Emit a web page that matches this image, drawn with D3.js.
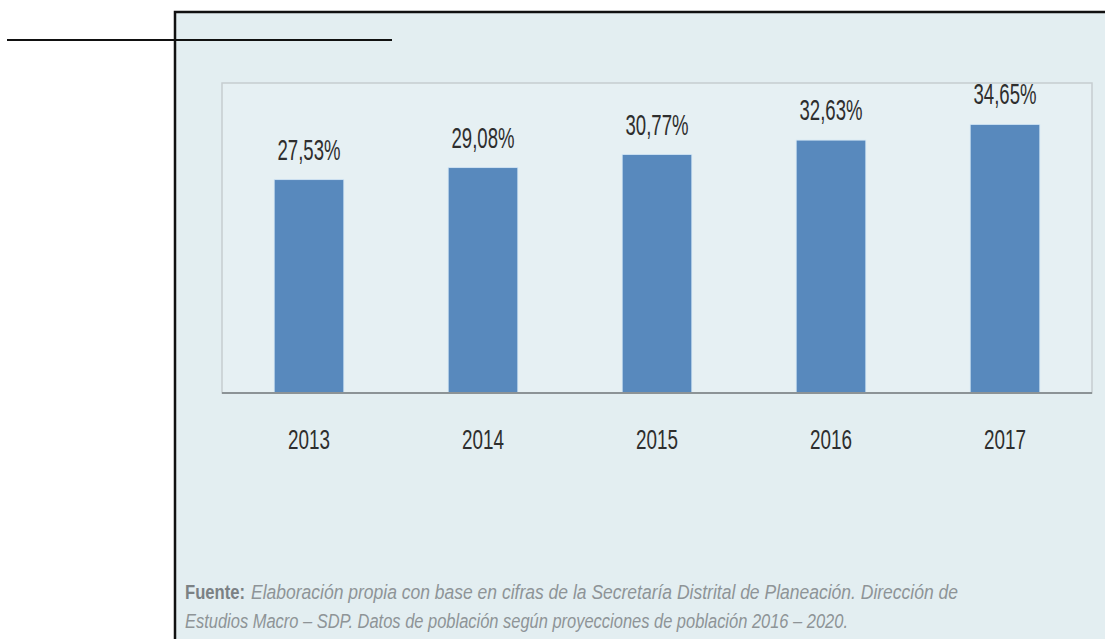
<!DOCTYPE html>
<html>
<head>
<meta charset="utf-8">
<script src="https://cdn.jsdelivr.net/npm/d3@7"></script>
<style>
  html, body { margin: 0; padding: 0; background: #ffffff; }
  svg { display: block; }
</style>
</head>
<body>
<svg id="chart" width="1105" height="639"></svg>
<script>
// ---- data ----
const years = ["2013", "2014", "2015", "2016", "2017"];
const values = [27.53, 29.08, 30.77, 32.63, 34.65];
const valueLabels = ["27,53%", "29,08%", "30,77%", "32,63%", "34,65%"];
const sourceBold = "Fuente:";
const sourceLine1 = "Elaboración propia con base en cifras de la Secretaría Distrital de Planeación. Dirección de";
const sourceLine2 = "Estudios Macro – SDP. Datos de población según proyecciones de población 2016 – 2020.";

const svg = d3.select("#chart");
const W = 1105, H = 639;

// outer panel
svg.append("rect").attr("x", 0).attr("y", 0).attr("width", W).attr("height", H).attr("fill", "#ffffff");
svg.append("rect")
  .attr("x", 175).attr("y", 12).attr("width", W - 175 + 10).attr("height", H)
  .attr("fill", "#e3eef1").attr("stroke", "#111").attr("stroke-width", 2.5);
svg.append("line").attr("x1", 7).attr("x2", 392).attr("y1", 40).attr("y2", 40)
  .attr("stroke", "#111").attr("stroke-width", 2.2);

// plot area
const plot = { left: 222, right: 1092, top: 83, bottom: 393 };
const x = d3.scaleBand().domain(years).range([plot.left, plot.right])
  .paddingInner(0.6).paddingOuter(0.3);
const y = d3.scaleLinear().domain([0, 40]).range([plot.bottom, plot.top]);

svg.append("rect")
  .attr("x", plot.left).attr("y", plot.top)
  .attr("width", plot.right - plot.left).attr("height", plot.bottom - plot.top)
  .attr("fill", "#e6f0f3").attr("stroke", "#c6cdd0").attr("stroke-width", 1.5);

// bars
svg.selectAll("rect.bar").data(values).join("rect")
  .attr("class", "bar")
  .attr("x", (d, i) => x(years[i]))
  .attr("y", d => y(d))
  .attr("width", x.bandwidth())
  .attr("height", d => y(0) - y(d))
  .attr("fill", "#5889bd")
  .attr("stroke", "#d3e6f5").attr("stroke-width", 0.8);

// x axis
const xAxis = svg.append("g").attr("transform", `translate(0,${plot.bottom})`)
  .call(d3.axisBottom(x).tickSize(0).tickPadding(0));
xAxis.select(".domain").attr("stroke", "#8c9396").attr("stroke-width", 2)
  .attr("d", `M${plot.left},0H${plot.right}`);
xAxis.selectAll("text")
  .attr("y", 56).attr("dy", null)
  .attr("font-family", "Liberation Sans, Arial, sans-serif")
  .attr("font-size", 27)
  .attr("fill", "#2e2e2e")
  .attr("textLength", 42).attr("lengthAdjust", "spacingAndGlyphs");

// value labels
svg.selectAll("text.val").data(values).join("text")
  .attr("class", "val")
  .attr("x", (d, i) => x(years[i]) + x.bandwidth() / 2)
  .attr("y", d => y(d) - 20)
  .attr("text-anchor", "middle")
  .attr("font-family", "Liberation Sans, Arial, sans-serif")
  .attr("font-size", 30)
  .attr("fill", "#2e2e2e")
  .attr("textLength", 63).attr("lengthAdjust", "spacingAndGlyphs")
  .text((d, i) => valueLabels[i]);

// source
svg.append("text")
  .attr("x", 185).attr("y", 599)
  .attr("font-family", "Liberation Sans, Arial, sans-serif")
  .attr("font-size", 20)
  .attr("font-weight", "bold")
  .attr("fill", "#7b8184")
  .attr("textLength", 60).attr("lengthAdjust", "spacingAndGlyphs")
  .text(sourceBold);

svg.append("text")
  .attr("x", 251).attr("y", 599)
  .attr("font-family", "Liberation Sans, Arial, sans-serif")
  .attr("font-size", 20)
  .attr("font-style", "italic")
  .attr("fill", "#8e9497")
  .attr("textLength", 707).attr("lengthAdjust", "spacingAndGlyphs")
  .text(sourceLine1);

svg.append("text")
  .attr("x", 185).attr("y", 628)
  .attr("font-family", "Liberation Sans, Arial, sans-serif")
  .attr("font-size", 20)
  .attr("font-style", "italic")
  .attr("fill", "#8e9497")
  .attr("textLength", 663).attr("lengthAdjust", "spacingAndGlyphs")
  .text(sourceLine2);
</script>
</body>
</html>
